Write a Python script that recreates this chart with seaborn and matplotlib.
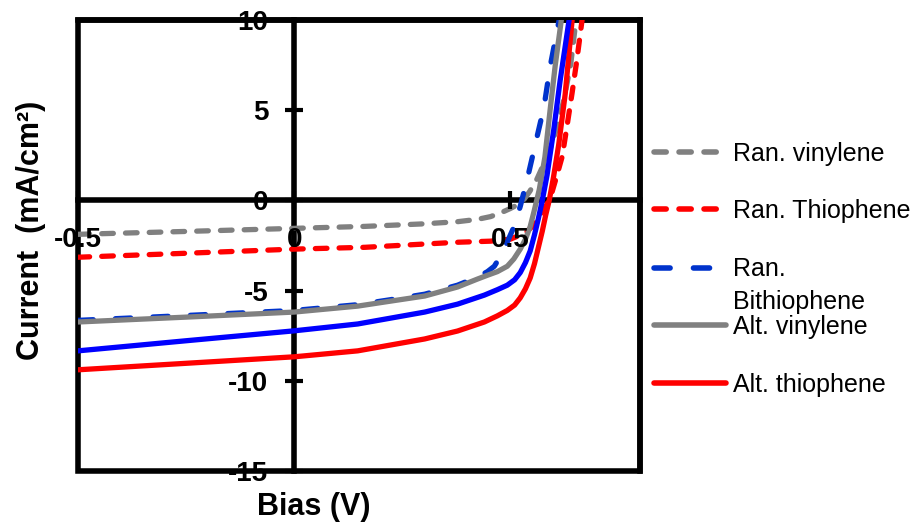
import numpy as np
import pandas as pd
import seaborn as sns
import matplotlib
matplotlib.use("Agg")
import matplotlib.pyplot as plt
from matplotlib.lines import Line2D

# ---------------- data ----------------
ran_vinylene_v = [-0.5, -0.25, 0.0, 0.164, 0.3, 0.378, 0.424, 0.454, 0.477, 0.5, 0.516,
                  0.53, 0.545, 0.562, 0.59, 0.61, 0.625, 0.64, 0.652]
ran_vinylene_j = [-1.88, -1.72, -1.55, -1.44, -1.3, -1.18, -1.05, -0.9, -0.7, -0.45, -0.25,
                  0.0, 0.5, 1.2, 2.7, 4.2, 5.7, 7.6, 10.0]

ran_thiophene_v = [-0.5, -0.25, 0.0, 0.164, 0.3, 0.378, 0.454, 0.5, 0.535, 0.551, 0.57,
                   0.585, 0.597, 0.608, 0.62, 0.631, 0.643, 0.654, 0.666]
ran_thiophene_j = [-3.15, -2.93, -2.7, -2.6, -2.42, -2.32, -2.26, -2.15, -1.8, -1.44, -0.8,
                   -0.2, 0.5, 1.4, 2.43, 4.09, 5.97, 7.79, 10.0]

ran_bithiophene_v = [-0.5, -0.25, 0.0, 0.147, 0.224, 0.302, 0.378, 0.424, 0.447, 0.463,
                     0.477, 0.493, 0.509, 0.523, 0.539, 0.555, 0.578, 0.592, 0.613]
ran_bithiophene_j = [-6.65, -6.38, -6.1, -5.78, -5.5, -5.2, -4.7, -4.25, -3.95, -3.65,
                     -3.1, -2.3, -1.44, -0.33, 1.16, 2.82, 5.19, 7.4, 10.0]

alt_vinylene_v = [-0.5, -0.25, 0.0, 0.147, 0.224, 0.302, 0.378, 0.424, 0.447, 0.47, 0.493,
                  0.508, 0.523, 0.535, 0.546, 0.555, 0.567, 0.58, 0.592, 0.604, 0.618]
alt_vinylene_j = [-6.74, -6.47, -6.19, -5.86, -5.58, -5.3, -4.8, -4.36, -4.15, -3.95, -3.65,
                  -3.25, -2.7, -2.15, -1.45, -0.6, 0.6, 2.4, 5.0, 7.5, 10.0]

alt_thiophene_v = [-0.5, -0.25, 0.0, 0.147, 0.302, 0.378, 0.44, 0.47, 0.493, 0.51, 0.523,
                   0.535, 0.546, 0.556, 0.565, 0.574, 0.582, 0.59, 0.6, 0.612, 0.627, 0.643]
alt_thiophene_j = [-9.39, -9.03, -8.67, -8.34, -7.68, -7.24, -6.74, -6.4, -6.1, -5.8, -5.4,
                   -4.9, -4.3, -3.5, -2.6, -1.7, -0.8, 0.0, 1.3, 3.1, 5.9, 10.0]

alt_bithiophene_v = [-0.5, -0.25, 0.0, 0.147, 0.302, 0.378, 0.44, 0.47, 0.493, 0.51, 0.523,
                     0.535, 0.546, 0.556, 0.565, 0.574, 0.585, 0.601, 0.615, 0.636]
alt_bithiophene_j = [-8.34, -7.78, -7.23, -6.85, -6.19, -5.75, -5.25, -4.95, -4.7, -4.4, -4.0,
                     -3.45, -2.8, -1.9, -1.0, 0.0, 1.4, 4.0, 6.6, 10.0]

series_names = ["Ran. vinylene", "Ran. Thiophene", "Ran. Bithiophene",
                "Alt. vinylene", "Alt. thiophene", "Alt. bithiophene"]
legend_labels = ["Ran. vinylene", "Ran. Thiophene", "Ran.\nBithiophene",
                 "Alt. vinylene", "Alt. thiophene"]

x_ticks = [-0.5, 0.0, 0.5]
x_tick_labels = ["-0.5", "0", "0.5"]
y_ticks = [10, 5, 0, -5, -10, -15]
y_tick_labels = ["10", "5", "0", "-5", "-10", "-15"]

# ---------------- styles ----------------
colors = {"Ran. vinylene": "#808080", "Ran. Thiophene": "#FF0000",
          "Ran. Bithiophene": "#0033CC", "Alt. vinylene": "#808080",
          "Alt. thiophene": "#FF0000", "Alt. bithiophene": "#0000FF"}
dashes = {"Ran. vinylene": (2.2, 2.3), "Ran. Thiophene": (2.2, 2.3),
          "Ran. Bithiophene": (2.9, 4.2), "Alt. vinylene": "",
          "Alt. thiophene": "", "Alt. bithiophene": ""}

frames = []
for name, v, j in zip(series_names,
                      [ran_vinylene_v, ran_thiophene_v, ran_bithiophene_v,
                       alt_vinylene_v, alt_thiophene_v, alt_bithiophene_v],
                      [ran_vinylene_j, ran_thiophene_j, ran_bithiophene_j,
                       alt_vinylene_j, alt_thiophene_j, alt_bithiophene_j]):
    frames.append(pd.DataFrame({"Bias": v, "Current": j, "series": name}))
df = pd.concat(frames, ignore_index=True)

sns.set_theme(style="white")
plt.rcParams["font.family"] = ["Liberation Sans", "DejaVu Sans"]
plt.rcParams["axes.unicode_minus"] = False

W, H = 922, 527
fig = plt.figure(figsize=(W / 100, H / 100), dpi=100)
ax = fig.add_axes([78 / W, 1 - 471 / H, (640 - 78) / W, (471 - 20) / H])

sns.lineplot(data=df, x="Bias", y="Current", hue="series", style="series",
             hue_order=series_names, style_order=series_names,
             palette=colors, dashes=dashes, sort=False, estimator=None,
             linewidth=3.8, dash_capstyle="round", solid_joinstyle="round",
             legend=False, ax=ax, zorder=3)

ax.set_xlim(-0.5, 0.8)
ax.set_ylim(-15, 10)

# frame + axes crossing at the origin
ax.spines["left"].set_position(("data", 0))
ax.spines["bottom"].set_position(("data", 0))
for sp in ax.spines.values():
    sp.set_color("black")
    sp.set_linewidth(4)
    sp.set_visible(True)
ax.patch.set_edgecolor("black")
ax.patch.set_linewidth(4)

ax.set_xticks(x_ticks)
ax.set_xticklabels(x_tick_labels)
ax.set_yticks(y_ticks)
ax.set_yticklabels(y_tick_labels)
ax.tick_params(axis="both", which="major", bottom=True, left=True,
               top=False, right=False, direction="inout", length=13,
               width=3, color="black", labelsize=20, labelcolor="black")
ax.tick_params(axis="y", pad=12)
ax.tick_params(axis="x", pad=13)
for lab in ax.get_xticklabels() + ax.get_yticklabels():
    lab.set_fontweight("bold")
ax.xaxis.set_zorder(4)
ax.yaxis.set_zorder(4)

ax.set_xlabel("Bias (V)", fontsize=22, fontweight="bold", color="black",
              va="center")
ax.xaxis.set_label_coords((314 - 78) / 562, (471 - 507) / 451)
ax.set_ylabel("Current  (mA/cm²)", fontsize=22, fontweight="bold",
              color="black", va="center")
ax.yaxis.set_label_coords((31 - 78) / 562, (471 - 230) / 451)

# ---------------- legend (Excel-like layout) ----------------
leg_series = series_names[:5]
leg_y = [152, 209, 268, 325, 383]
line_gap = 32  # pixel distance between the two lines of a wrapped label
for name, lab, yp in zip(leg_series, legend_labels, leg_y):
    x_end = 726 if dashes[name] == "" else 717
    ln = Line2D([654 / W, x_end / W], [1 - yp / H, 1 - yp / H],
                transform=fig.transFigure, color=colors[name], lw=4,
                solid_capstyle="round", dash_capstyle="round")
    if dashes[name] != "":
        ln.set_dashes(dashes[name])
    fig.add_artist(ln)
    n_extra = lab.count("\n")
    base = yp + 9 + n_extra * line_gap
    fig.text(733 / W, 1 - base / H, lab, fontsize=18, color="black",
             va="baseline", linespacing=1.5)

fig.savefig("out.png", dpi=100)
